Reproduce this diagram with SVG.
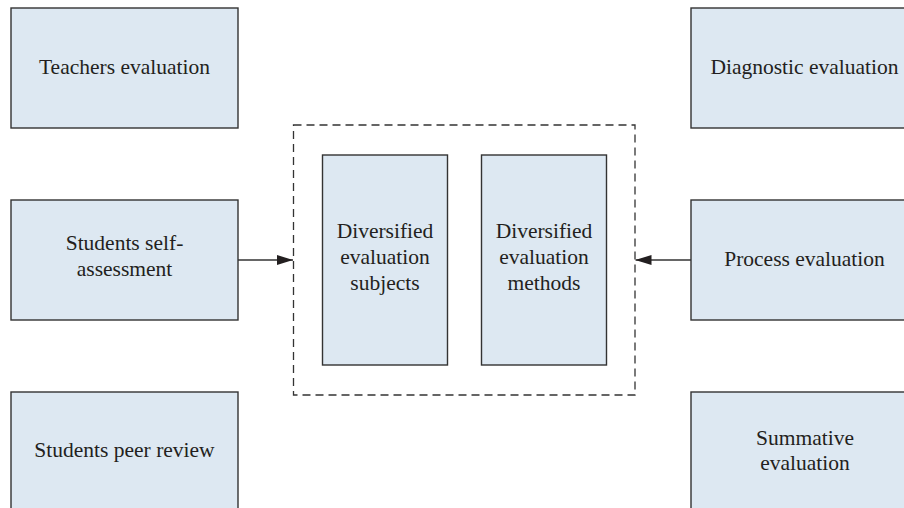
<svg xmlns="http://www.w3.org/2000/svg" width="904" height="508" viewBox="0 0 904 508">
  <style>
    .box { fill: #dde8f2; stroke: #333333; stroke-width: 1.4; }
    .frame { fill: none; stroke: #333333; stroke-width: 1.3; stroke-dasharray: 8 5; }
    .lbl { font-family: "Liberation Serif", "Times New Roman", serif; font-size: 21.5px; fill: #231f20; text-anchor: middle; }
    .conn { stroke: #333333; stroke-width: 1.3; fill: none; }
  </style>
  <defs>
    <marker id="arrow" viewBox="0 0 16 10" refX="16" refY="5" markerWidth="16" markerHeight="10" markerUnits="userSpaceOnUse" orient="auto">
      <path d="M0,0 L16,5 L0,10 Z" fill="#231f20"/>
    </marker>
  </defs>

  <rect x="0" y="0" width="904" height="508" fill="#ffffff"/>

  <!-- left column: evaluation subjects -->
  <g id="teachers-evaluation">
    <rect class="box" x="11" y="8" width="227" height="120"/>
    <text class="lbl" x="124.5" y="74">Teachers evaluation</text>
  </g>
  <g id="students-self-assessment">
    <rect class="box" x="11" y="200" width="227" height="120"/>
    <text class="lbl" x="124.5" y="250">Students self-</text>
    <text class="lbl" x="124.5" y="276">assessment</text>
  </g>
  <g id="students-peer-review">
    <rect class="box" x="11" y="392" width="227" height="130"/>
    <text class="lbl" x="124.5" y="457">Students peer review</text>
  </g>

  <!-- right column: evaluation methods -->
  <g id="diagnostic-evaluation">
    <rect class="box" x="691" y="8" width="227" height="120"/>
    <text class="lbl" x="804.5" y="74">Diagnostic evaluation</text>
  </g>
  <g id="process-evaluation">
    <rect class="box" x="691" y="200" width="227" height="120"/>
    <text class="lbl" x="804.5" y="266">Process evaluation</text>
  </g>
  <g id="summative-evaluation">
    <rect class="box" x="691" y="392" width="227" height="130"/>
    <text class="lbl" x="805" y="445">Summative</text>
    <text class="lbl" x="805" y="470">evaluation</text>
  </g>

  <!-- central group -->
  <g id="diversified-evaluation">
    <rect class="frame" x="293.5" y="125" width="341.5" height="270"/>
  </g>
  <g id="diversified-subjects">
    <rect class="box" x="322.5" y="155" width="125" height="210"/>
    <text class="lbl" x="385" y="238">Diversified</text>
    <text class="lbl" x="385" y="264">evaluation</text>
    <text class="lbl" x="385" y="290">subjects</text>
  </g>
  <g id="diversified-methods">
    <rect class="box" x="481.5" y="155" width="125" height="210"/>
    <text class="lbl" x="544" y="238">Diversified</text>
    <text class="lbl" x="544" y="264">evaluation</text>
    <text class="lbl" x="544" y="290">methods</text>
  </g>

  <!-- connectors -->
  <g id="connectors">
    <line class="conn" x1="238" y1="260" x2="293" y2="260" marker-end="url(#arrow)"/>
    <line class="conn" x1="691" y1="260" x2="635.5" y2="260" marker-end="url(#arrow)"/>
  </g>
</svg>
